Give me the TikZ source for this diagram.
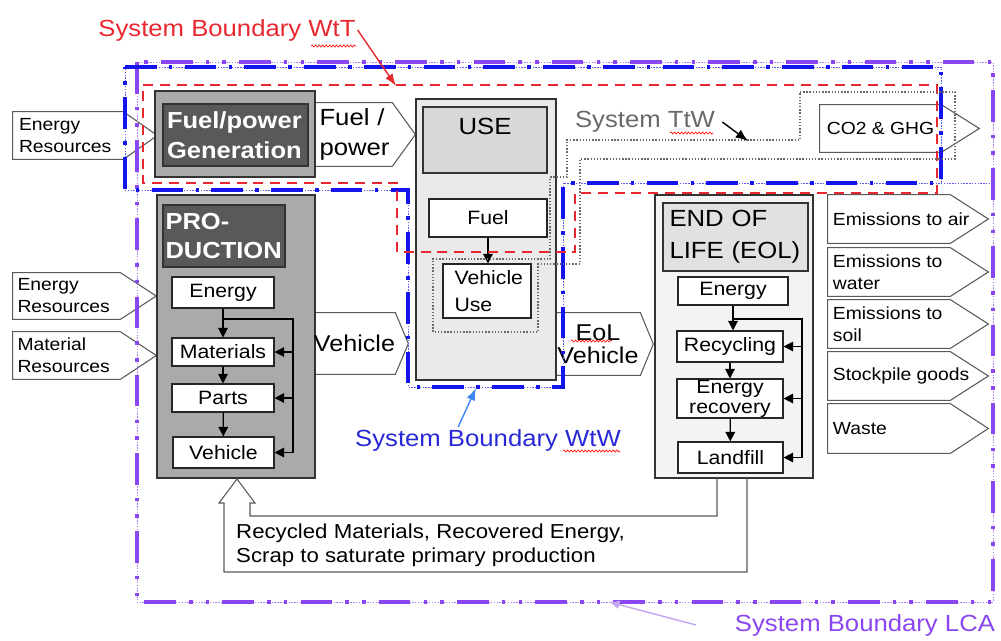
\documentclass[tikz,border=0pt]{standalone}
\usepackage{fontspec}
\setmainfont{Liberation Sans}[FakeStretch=1.1]
\usetikzlibrary{positioning, calc, arrows.meta, decorations.pathmorphing}
\pgfdeclarelayer{background}
\pgfdeclarelayer{foreground}
\pgfsetlayers{background,main,foreground}

\definecolor{wttred}{RGB}{232,40,48}
\definecolor{wtwblue}{RGB}{20,20,235}
\definecolor{wtwtext}{RGB}{40,40,215}
\definecolor{wtwlight}{RGB}{60,135,240}
\definecolor{lcaviolet}{RGB}{138,70,240}
\definecolor{lcalight}{RGB}{195,165,240}
\definecolor{ttwgray}{RGB}{105,105,105}
\definecolor{boxdark}{RGB}{89,89,89}
\definecolor{boxmid}{RGB}{170,170,170}
\definecolor{uselight}{RGB}{234,234,234}
\definecolor{usetitle}{RGB}{216,216,216}
\definecolor{eollight}{RGB}{243,243,243}
\definecolor{eoltitle}{RGB}{225,225,225}

\tikzset{
  spans/.style args={#1/#2/#3/#4}{at={({(#1+#3)/2},{(#2+#4)/2})}, anchor=center,
    minimum width={(#3-#1)*0.02cm}, minimum height={(#4-#2)*0.02cm}},
  bigtext/.style={font=\fontsize{13.3}{17}\selectfont},
  stagebox/.style={draw=black!80, line width=0.6pt, fill=boxmid, inner sep=0pt},
  titlebox/.style={draw=black!80, line width=0.6pt, fill=boxdark, text=white, inner sep=0pt,
    align=left, font=\bfseries\fontsize{13.2}{17}\selectfont},
  stepbox/.style={draw=black!85, line width=0.6pt, fill=white, inner sep=0pt, align=center,
    font=\fontsize{11}{11.5}\selectfont},
  bodytext/.style={inner sep=0pt, align=center},
  restext/.style={inner sep=0pt, text width=1.96cm, align=left, font=\fontsize{10}{12.5}\selectfont},
  outtext/.style={anchor=west, inner sep=2.8pt, align=left, font=\fontsize{10}{12.5}\selectfont},
  arrowline/.style={draw=black!65, line width=0.6pt, fill=white},
  plainline/.style={line width=0.7pt},
  flow/.style={line width=0.7pt, -{Triangle[length=5.5pt,width=5.5pt]}},
  wttline/.style={wttred, line width=1.1pt, dash pattern=on 5.7pt off 3.9pt},
  wtwthin/.style={wtwblue!70, line width=0.4pt, dash pattern=on 0.8pt off 0.8pt},
  wtwthick/.style={wtwblue, line width=2.3pt, dash pattern=on 18pt off 7pt on 2pt off 7pt},
  lcathin/.style={lcaviolet!70, line width=0.4pt, dash pattern=on 0.8pt off 0.8pt},
  lcathick/.style={lcaviolet, line width=2.3pt, dash pattern=on 18pt off 7.5pt on 2pt off 7.5pt on 2pt off 7.5pt},
  ttwline/.style={ttwgray, line width=0.6pt, dash pattern=on 0.8pt off 1pt},
  boundlabel/.style={font=\fontsize{13.3}{16}\selectfont, inner sep=1pt},
  spell/.style={red, line width=0.35pt, decorate, decoration={snake, amplitude=0.6pt, segment length=2pt}}
}

\begin{document}
\begin{tikzpicture}[x=0.02cm, y=-0.02cm]
    \useasboundingbox (0,0) rectangle (1001,640);

    %resources in
    \node[restext, spans=13/112/123/159] (eresfuel) {Energy\\Resources};
    \node[restext, spans=13/273/120/319] (erespro) {Energy\\Resources};
    \node[restext, spans=13/332/120/379] (mres) {Material\\Resources};

    %fuel/power generation
    \node[stagebox, spans=155/91/315/177] (gen) {};
    \node[titlebox, spans=163/104/308/166, text width=2.74cm] (gentitle) {Fuel/power\\Generation};
    \node[bodytext, spans=315/103/392/166, text width=1.36cm, align=left, bigtext] (fuelpow) {Fuel /\\power};

    %production
    \node[stagebox, spans=157/195/315/478] (prod) {};
    \node[titlebox, spans=163/205/285/267, text width=2.34cm] (prodtitle) {PRO-\\DUCTION};
    \node[stepbox, spans=172/277/274/308] (penergy) {Energy};
    \node[stepbox, spans=172/338/274/366] (pmat) {Materials};
    \node[stepbox, spans=172/384/274/412] (pparts) {Parts};
    \node[stepbox, spans=173/437/274/468] (pveh) {Vehicle};
    \node[bodytext, spans=315/313/394/374, font=\fontsize{13}{13}\selectfont] (vehout) {Vehicle};

    %use
    \node[stagebox, fill=uselight, spans=416/99/556/380] (use) {};
    \node[stagebox, fill=usetitle, spans=423/107/547/173,
      label={[bigtext, anchor=north, yshift=-3pt]north:USE}] (usetitle) {};
    \node[stepbox, spans=429/199/547/237] (fuel) {Fuel};
    \node[stepbox, spans=443/264/531/318, text width=1.3cm, align=left,
      font=\fontsize{11}{15}\selectfont] (vuse) {Vehicle\\Use};
    \node[bodytext, spans=556/313/640/375, font=\fontsize{13}{13}\selectfont] (eolveh) {EoL\\Vehicle};

    %end of life
    \node[stagebox, fill=eollight, spans=655/195/813/478] (eol) {};
    \node[stagebox, fill=eoltitle, spans=663/203/808/271, text width=2.64cm, align=left,
      font=\fontsize{13.3}{18.5}\selectfont] (eoltitle) {END OF\\LIFE (EOL)};
    \node[stepbox, spans=678/277/788/305] (eenergy) {Energy};
    \node[stepbox, spans=677/331/783/362] (erec) {Recycling};
    \node[stepbox, spans=677/379/783/418] (erecov) {Energy\\recovery};
    \node[stepbox, spans=678/442/783/473] (eland) {Landfill};

    %outputs
    \node[bodytext, spans=820/105/941/152, font=\fontsize{10}{12}\selectfont] (co2) {CO2 \& GHG};
    \foreach \nm/\ya/\yb/\txt in {emair/195/243/{Emissions to air}, emwat/248/296/{Emissions to\\water},
        emsoil/300/348/{Emissions to\\soil}, stock/352/400/{Stockpile goods}, waste/404/453/{Waste}}
      \node[bodytext, spans=828/\ya/950/\yb, label={[outtext]west:{\txt}}] (\nm) {};

    %arrow outlines
    \begin{pgfonlayer}{background}
    \foreach \n/\t in {eresfuel/34, erespro/36, mres/36, fuelpow/23, vehout/13, eolveh/13,
        co2/38, emair/38, emwat/38, emsoil/38, stock/38, waste/38}
      \draw[arrowline] (\n.north west) -- (\n.north east) -- ($(\n.east)+(\t,0)$)
        -- (\n.south east) -- (\n.south west) -- cycle;
    \end{pgfonlayer}

    %production flow
    \coordinate (ploop) at (293,319);
    \draw[flow] (penergy) -- (pmat);
    \draw[flow] (pmat) -- (pparts);
    \draw[flow] (pparts) -- (pveh);
    \draw[plainline] (penergy.south |- ploop) -- (ploop) -- (ploop |- pveh.east);
    \foreach \b in {pmat, pparts, pveh}
      \draw[flow] (ploop |- \b.east) -- (\b.east);

    %use flow
    \draw[flow] (fuel.south) -- (fuel.south |- vuse.north);

    %end of life flow
    \coordinate (eloop) at (802,319);
    \draw[flow] (eenergy.south) -- (eenergy.south |- erec.north);
    \draw[flow] (erec) -- (erecov);
    \draw[flow] (erecov) -- (eland);
    \draw[plainline] (eenergy.south |- eloop) -- (eloop) -- (eloop |- eland.east);
    \foreach \b in {erec, erecov, eland}
      \draw[flow] (eloop |- \b.east) -- (\b.east);

    %recycling back to production
    \draw[arrowline, fill=none] (747,478) -- (747,572) -- (224,572) -- (224,503) -- (219,503)
      -- (237,479) -- (255,503) -- (250,503) -- (250,516) -- (717,516) -- (717,478);
    \node[anchor=west, align=left, font=\fontsize{11.5}{13.7}\selectfont] (recyc) at (230,545)
      {Recycled Materials, Recovered Energy,\\Scrap to saturate primary production};

    \begin{pgfonlayer}{foreground}
    %system boundary lca
    \draw[lcathin] (137,62) rectangle (993,602);
    \draw[lcathick] (137,62) rectangle (993,602);
    %system boundary wtw
    \draw[wtwthin] (125,67) -- (941,67) -- (941,183) -- (563,183) -- (563,387) -- (408,387)
      -- (408,190) -- (125,190) -- cycle (941,183) -- (995,183);
    \draw[wtwthick] (125,67) -- (941,67) -- (941,183) -- (563,183) -- (563,387) -- (408,387)
      -- (408,190) -- (125,190) -- cycle;
    %system boundary wtt
    \draw[wttline] (143,85) -- (937,85) -- (937,193) -- (575,193) -- (575,252) -- (397,252)
      -- (397,183) -- (143,183) -- cycle;
    %system ttw
    \draw[ttwline] (800,92) -- (955,92) -- (955,159) -- (580,159) -- (580,264) -- (538,264)
      -- (538,332) -- (433,332) -- (433,259) -- (550,259) -- (550,177) -- (567,177)
      -- (567,140) -- (800,140) -- cycle;

    %labels
    \node[boundlabel, text=wttred] (wttlabel) at (227,30) {System Boundary WtT};
    \coordinate (wtttip) at (396,86);
    \draw[wttred, line width=0.8pt, -{Latex[length=7pt,width=5pt]}] (wttlabel.east) -- (wtttip);

    \node[boundlabel, text=ttwgray] (ttwlabel) at (645,122) {System TtW};
    \coordinate (ttwtip) at (748,141);
    \draw[black, line width=0.8pt, -{Latex[length=7pt,width=5.5pt]}] ([xshift=3pt]ttwlabel.east) -- (ttwtip);

    \node[boundlabel, text=wtwtext] (wtwlabel) at (488,440) {System Boundary WtW};
    \coordinate (wtwtip) at (476,388);
    \draw[wtwlight, line width=0.8pt, -{Latex[length=7pt,width=5pt]}] ([xshift=-17pt]wtwlabel.north) -- (wtwtip);

    \node[boundlabel, text=lcaviolet] (lcalabel) at (865,625) {System Boundary LCA};
    \coordinate (lcatip) at (609,602);
    \draw[lcalight, line width=0.8pt, -{Latex[length=6pt,width=5pt]}] ([xshift=-21pt]lcalabel.west) -- (lcatip);

    %spelling marks
    \draw[spell] (311,46) -- (356,46);
    \draw[spell] (670,133) -- (713,133);
    \draw[spell] (563,451) -- (620,451);
    \draw[spell] (571,341) -- (612,341);
    \end{pgfonlayer}
\end{tikzpicture}
\end{document}
